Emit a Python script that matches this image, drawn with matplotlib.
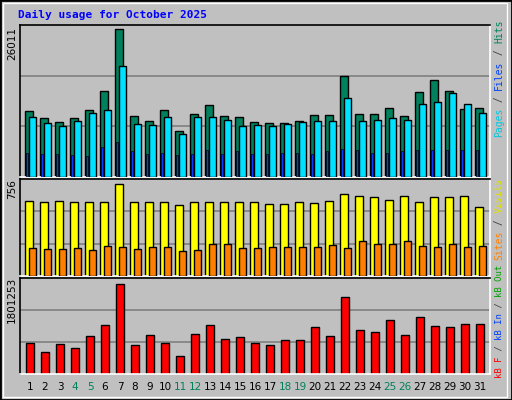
import matplotlib
matplotlib.use("Agg")
import matplotlib.pyplot as plt
import numpy as np

days = list(range(1, 32))
weekend = [4, 5, 11, 12, 18, 19, 25, 26]
hits = [11600, 10300, 9700, 10400, 11700, 15100, 26011, 10800, 9900, 11800, 8100, 11100,
        12700, 10800, 10600, 9700, 9500, 9500, 9900, 10900, 10900, 17800, 11000, 11000,
        12200, 10800, 14900, 17100, 15200, 12000, 12200]
files = [10600, 9500, 9000, 9900, 11300, 11700, 19500, 9400, 9200, 10600, 7600, 10600,
         10600, 10100, 9000, 9200, 9000, 9400, 9700, 9900, 9900, 13800, 9900, 10100,
         10400, 10100, 12900, 13100, 14700, 12900, 11300]
pages = [4300, 4100, 4100, 3900, 3700, 5200, 6100, 4600, 4100, 4300, 3900, 4100,
         4700, 4100, 4500, 4100, 4100, 4300, 4300, 4100, 4500, 4900, 4700, 4300,
         4300, 4500, 4700, 4700, 4700, 4700, 4700]
visits = [615, 610, 615, 610, 610, 610, 756, 610, 610, 605, 580, 610,
          610, 605, 605, 610, 595, 590, 605, 600, 620, 670, 655, 650,
          625, 660, 610, 650, 650, 655, 570]
sites = [230, 225, 225, 230, 215, 245, 240, 225, 235, 240, 205, 215,
         265, 260, 230, 230, 240, 235, 240, 240, 255, 230, 285, 265,
         260, 285, 245, 240, 265, 240, 250]
kbf = [620000, 450000, 600000, 530000, 760000, 990000, 1801253, 580000, 780000, 620000, 370000, 800000,
       990000, 700000, 750000, 620000, 580000, 680000, 680000, 940000, 760000, 1540000, 880000, 840000,
       1090000, 780000, 1150000, 970000, 940000, 1010000, 1010000]

BG = "#C0C0C0"
fig = plt.figure(figsize=(5.12, 4.0), dpi=100, facecolor=BG)

def ax_px(l, t, r, b):
    return fig.add_axes([l/512, 1-b/400, (r-l)/512, (b-t)/400])

x = np.array(days)
xlim = (0.33, 0.33 + 470/15)

def style(ax, ymax):
    ax.set_facecolor(BG)
    ax.set_xlim(*xlim)
    ax.set_ylim(0, ymax)
    ax.set_xticks([]); ax.set_yticks([])
    for y in (ymax/3, 2*ymax/3):
        ax.axhline(y, color="#808080", lw=1.2, zorder=0)
    for s in ax.spines.values():
        s.set_color("black"); s.set_linewidth(1.2)

ax1 = ax_px(20, 25, 490, 177)
style(ax1, 26011*151/147)
ax1.bar(x - 0.08, hits, width=0.5, color="#00805C", edgecolor="black", lw=1, zorder=2)
ax1.bar(x + 0.15, files, width=0.5, color="#00E0FF", edgecolor="black", lw=1, zorder=3)
ax1.bar(x - 0.2, pages, width=0.13, color="#0040FF", edgecolor="black", lw=0.5, zorder=4)

ax2 = ax_px(20, 179, 490, 276)
style(ax2, 756*97/92)
ax2.bar(x - 0.08, visits, width=0.5, color="#FFFF00", edgecolor="black", lw=1, zorder=2)
ax2.bar(x + 0.15, sites, width=0.5, color="#FF8000", edgecolor="black", lw=1, zorder=3)

ax3 = ax_px(20, 278, 490, 374)
style(ax3, 1801253*96/90)
ax3.bar(x, kbf, width=0.55, color="#FF0000", edgecolor="black", lw=1, zorder=2)

for a in (ax1, ax2, ax3):
    for s in ("bottom", "right"):
        a.spines[s].set_color("white")

for d in days:
    px = 20 + (d - xlim[0]) * 15
    fig.text(px/512, 1-387/400, str(d), ha="center", va="center", fontsize=7.5,
             family="DejaVu Sans", color="#00805C" if d in weekend else "black")

fig.text(18/512, 1-15/400, "Daily usage for October 2025", color="#0000FF",
         family="DejaVu Sans Mono", fontweight="bold", fontsize=8, va="center")

for txt, ycen in (("26011", 44), ("756", 189), ("1801253", 300)):
    fig.text(12/512, 1-ycen/400, txt, rotation=90, ha="center", va="center",
             fontsize=7.5, family="DejaVu Sans")

def vlabel(pieces, ybottom, fs, cw, xp=499):
    y = ybottom
    for t, c in pieces:
        fig.text(xp/512, 1-y/400, t, rotation=90, ha="center", va="bottom",
                 fontsize=fs, family="DejaVu Sans Mono", color=c)
        y -= cw * len(t)

vlabel([("Pages", "#00C8E0"), (" / ", "#404040"), ("Files", "#0040FF"),
        (" / ", "#404040"), ("Hits", "#00805C")], 137, 7, 5.85)
vlabel([("Sites", "#FF8000"), (" / ", "#404040"), ("Visits", "#E0E000")], 260, 7, 5.85)
vlabel([("kB F", "#FF0000"), (" / ", "#404040"), ("kB In", "#0040FF"),
        (" / ", "#404040"), ("kB Out", "#00A000")], 378, 6.5, 5.43)

fig.add_artist(plt.Rectangle((0, 0), 1, 1, transform=fig.transFigure, fill=False,
                             edgecolor="black", lw=2))
fig.add_artist(plt.Rectangle((3/512, 3/400), 504/512, 394/400, transform=fig.transFigure,
                             fill=False, edgecolor="white", lw=1))
fig.savefig("out.png", dpi=100, facecolor=BG)
